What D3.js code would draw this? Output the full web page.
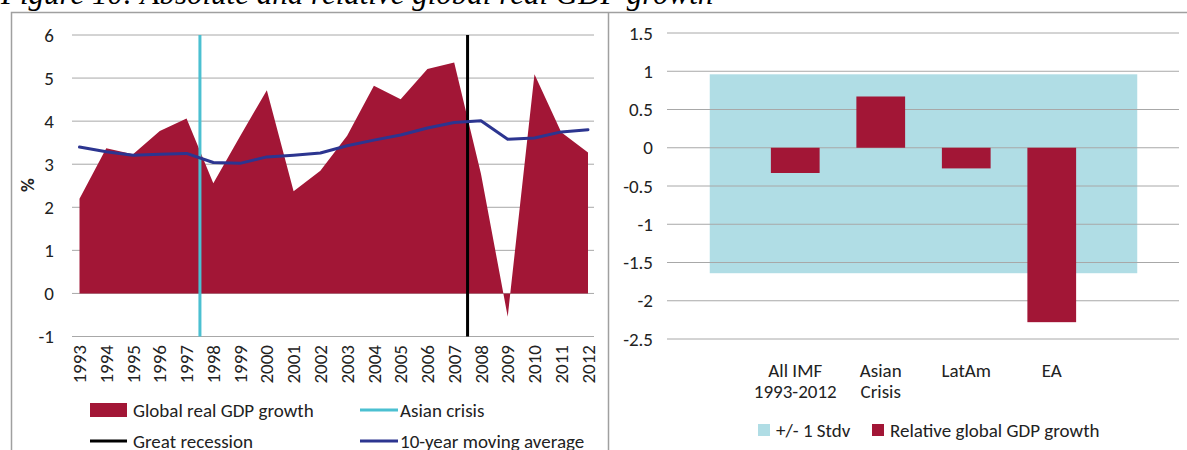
<!DOCTYPE html>
<html>
<head>
<meta charset="utf-8">
<script src="https://cdn.jsdelivr.net/npm/d3@7"></script>
<style>
  body { margin: 0; background: #fff; }
  svg text { font-family: Calibri, Carlito, Lato, sans-serif; fill: #222; }
</style>
</head>
<body>
<div id="chart"></div>
<script>
// data, left panel
var years = ["1993","1994","1995","1996","1997","1998","1999","2000","2001","2002",
             "2003","2004","2005","2006","2007","2008","2009","2010","2011","2012"];
var gdpGrowth = [2.2, 3.37, 3.23, 3.77, 4.06, 2.56, 3.65, 4.72, 2.37, 2.85,
                 3.66, 4.82, 4.51, 5.21, 5.36, 2.78, -0.54, 5.09, 3.74, 3.27];
var movingAvg = [3.40, 3.29, 3.21, 3.23, 3.25, 3.04, 3.02, 3.17, 3.21, 3.26,
                 3.43, 3.56, 3.68, 3.84, 3.97, 4.01, 3.58, 3.61, 3.75, 3.80];
var leftTicks = [-1, 0, 1, 2, 3, 4, 5, 6];
// crisis markers sit half way after these years
var crisisYears = ["1997", "2007"];
var crisisNames = ["Asian crisis", "Great recession"];

// data, right panel
var catLabels = [[], ["All IMF", "1993-2012"], ["Asian", "Crisis"], ["LatAm"], ["EA"], []];
var relGrowth = [null, -0.33, 0.67, -0.27, -2.28, null];
var stdvBand = [-1.64, 0.96];
var rightTicks = [-2.5, -2, -1.5, -1, -0.5, 0, 0.5, 1, 1.5];

var red = "#a21636", cyan = "#4bc0d1", navy = "#2c3590", band = "#b0dde5", grid = "#a8a8a8";
var fs = "19px";

var svg = d3.select("#chart").append("svg")
    .attr("width", 1187)
    .attr("height", 450);

// title, cut at the top
svg.append("text")
  .attr("x", 1).attr("y", 4)
  .style("font-family", "'Liberation Serif', 'Times New Roman', serif")
  .style("font-style", "italic")
  .style("font-size", "31px")
  .style("fill", "#000")
  .text("Figure 10: Absolute and relative global real GDP growth");

// frame
svg.append("path")
  .attr("d", "M11.5,460 V12.5 H1187 M608.5,12.5 V460")
  .attr("fill", "none")
  .attr("stroke", "#a0a0a0")
  .attr("stroke-width", 1.5);

//LEFT PANEL
var xL = d3.scalePoint().domain(years).range([79.5, 588]);
var yL = d3.scaleLinear().domain([-1, 6]).range([336.5, 35]);

svg.append("g").selectAll("line")
  .data(leftTicks)
  .enter().append("line")
    .attr("x1", 72).attr("x2", 594)
    .attr("y1", function(d) { return yL(d); })
    .attr("y2", function(d) { return yL(d); })
    .attr("stroke", grid).attr("stroke-width", 1);

svg.append("g").selectAll("text")
  .data(leftTicks)
  .enter().append("text")
    .attr("x", 54)
    .attr("y", function(d) { return yL(d); })
    .attr("dy", "0.35em")
    .attr("text-anchor", "end")
    .style("font-size", fs)
    .text(function(d) { return d; });

svg.append("text")
  .attr("transform", "translate(34,185) rotate(-90)")
  .attr("text-anchor", "middle")
  .style("font-size", fs)
  .style("font-weight", "bold")
  .text("%");

// year labels
svg.append("g").selectAll("text")
  .data(years)
  .enter().append("text")
    .attr("transform", function(d) { return "translate(" + xL(d) + ",345) rotate(-90)"; })
    .attr("dy", "0.35em")
    .attr("text-anchor", "end")
    .style("font-size", fs)
    .text(function(d) { return d; });

var area = d3.area()
  .x(function(d, i) { return xL(years[i]); })
  .y0(yL(0))
  .y1(function(d) { return yL(d); });

svg.append("path")
  .datum(gdpGrowth)
  .attr("d", area)
  .attr("fill", red);

// crisis markers
var crisisX = function(yr) {
  var i = years.indexOf(yr);
  return (xL(years[i]) + xL(years[i + 1])) / 2;
};
svg.append("line")
  .attr("x1", crisisX(crisisYears[0])).attr("x2", crisisX(crisisYears[0]))
  .attr("y1", yL(6)).attr("y2", yL(-1))
  .attr("stroke", cyan).attr("stroke-width", 3);
svg.append("line")
  .attr("x1", crisisX(crisisYears[1])).attr("x2", crisisX(crisisYears[1]))
  .attr("y1", yL(6)).attr("y2", yL(-1))
  .attr("stroke", "#000").attr("stroke-width", 3);

var line = d3.line()
  .x(function(d, i) { return xL(years[i]); })
  .y(function(d) { return yL(d); });

svg.append("path")
  .datum(movingAvg)
  .attr("d", line)
  .attr("fill", "none")
  .attr("stroke", navy)
  .attr("stroke-width", 3)
  .attr("stroke-linejoin", "round")
  .attr("stroke-linecap", "round");

// left legend
var legL = svg.append("g").style("font-size", fs);
legL.append("rect").attr("x", 90).attr("y", 403).attr("width", 37).attr("height", 14).attr("fill", red);
legL.append("text").attr("x", 133).attr("y", 410).attr("dy", "0.35em").text("Global real GDP growth");
legL.append("line").attr("x1", 360).attr("x2", 398).attr("y1", 410).attr("y2", 410)
  .attr("stroke", cyan).attr("stroke-width", 3);
legL.append("text").attr("x", 400).attr("y", 410).attr("dy", "0.35em").text(crisisNames[0]);
legL.append("line").attr("x1", 90).attr("x2", 127).attr("y1", 441).attr("y2", 441)
  .attr("stroke", "#000").attr("stroke-width", 3);
legL.append("text").attr("x", 133).attr("y", 441).attr("dy", "0.35em").text(crisisNames[1]);
legL.append("line").attr("x1", 360).attr("x2", 398).attr("y1", 441).attr("y2", 441)
  .attr("stroke", navy).attr("stroke-width", 3);
legL.append("text").attr("x", 400).attr("y", 441).attr("dy", "0.35em").text("10-year moving average");

//RIGHT PANEL
var xR = d3.scaleBand()
  .domain(d3.range(catLabels.length))
  .range([667, 1180])
  .paddingInner(0.43)
  .paddingOuter(0.215);
var yR = d3.scaleLinear().domain([-2.5, 1.5]).range([339, 33]);
var mid = function(i) { return xR(i) + xR.bandwidth() / 2; };

// +/- 1 stdv band, from first to last slot centre
svg.append("rect")
  .attr("x", mid(0))
  .attr("width", mid(catLabels.length - 1) - mid(0))
  .attr("y", yR(stdvBand[1]))
  .attr("height", yR(stdvBand[0]) - yR(stdvBand[1]))
  .attr("fill", band);

svg.append("g").selectAll("line")
  .data(rightTicks)
  .enter().append("line")
    .attr("x1", 667).attr("x2", 1179)
    .attr("y1", function(d) { return yR(d); })
    .attr("y2", function(d) { return yR(d); })
    .attr("stroke", grid).attr("stroke-width", 1);

svg.append("g").selectAll("text")
  .data(rightTicks)
  .enter().append("text")
    .attr("x", 653)
    .attr("y", function(d) { return yR(d); })
    .attr("dy", "0.35em")
    .attr("text-anchor", "end")
    .style("font-size", fs)
    .text(function(d) { return d; });

svg.append("g").selectAll("rect")
  .data(relGrowth)
  .enter().filter(function(d) { return d !== null; }).append("rect")
    .attr("x", function(d) { return xR(relGrowth.indexOf(d)); })
    .attr("width", xR.bandwidth())
    .attr("y", function(d) { return yR(Math.max(0, d)); })
    .attr("height", function(d) { return Math.abs(yR(d) - yR(0)); })
    .attr("fill", red);

// category labels
catLabels.forEach(function(lines, i) {
  lines.forEach(function(t, j) {
    svg.append("text")
      .attr("x", mid(i))
      .attr("y", 370 + j * 21)
      .attr("dy", "0.35em")
      .attr("text-anchor", "middle")
      .style("font-size", fs)
      .text(t);
  });
});

// right legend
var legR = svg.append("g").style("font-size", fs);
legR.append("rect").attr("x", 758).attr("y", 424).attr("width", 12).attr("height", 12).attr("fill", band);
legR.append("text").attr("x", 776).attr("y", 430).attr("dy", "0.35em").text("+/- 1 Stdv");
legR.append("rect").attr("x", 872).attr("y", 424).attr("width", 12).attr("height", 12).attr("fill", red);
legR.append("text").attr("x", 890).attr("y", 430).attr("dy", "0.35em").text("Relative global GDP growth");
</script>
</body>
</html>
